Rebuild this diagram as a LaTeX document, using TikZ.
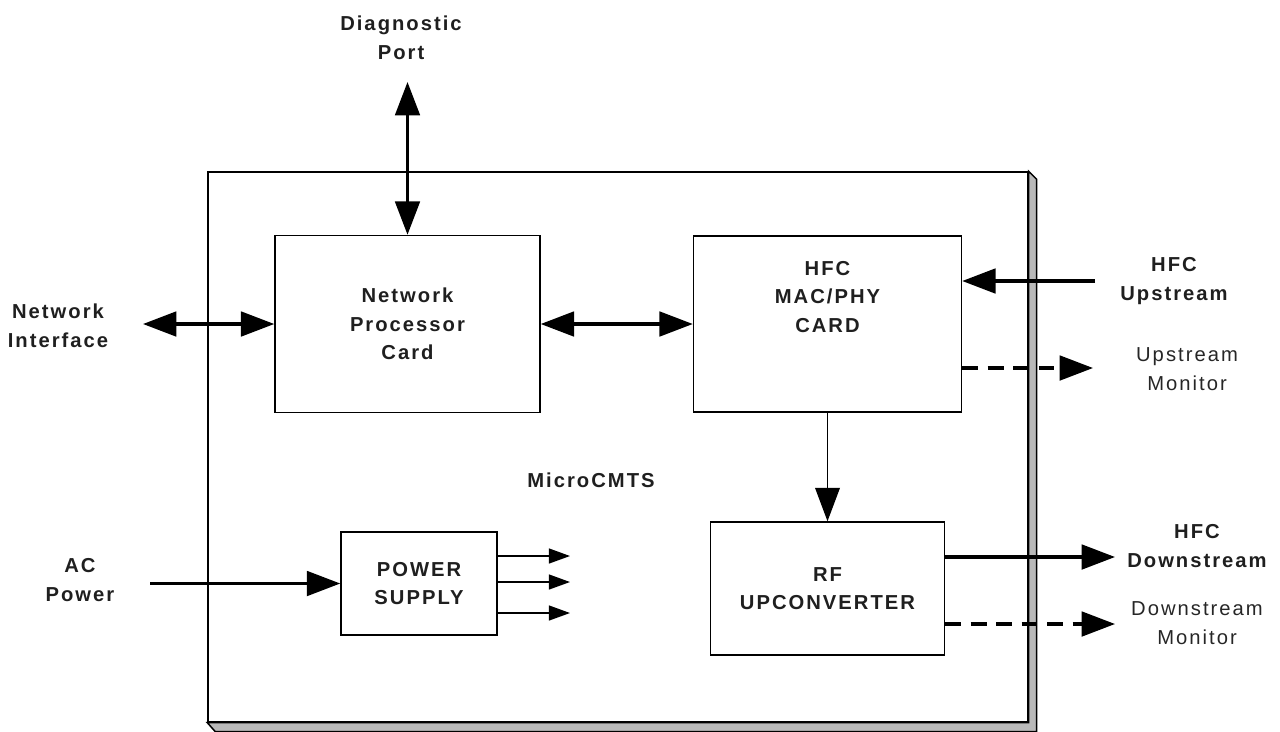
\documentclass[tikz,border=0pt]{standalone}
\usepackage{fontspec}
\setmainfont{Liberation Sans}[LetterSpace=10]
\usetikzlibrary{arrows.meta,positioning,calc}
\tikzset{every picture/.style={line width=0.85pt}}

\begin{document}
\begin{tikzpicture}[x=0.02cm,y=-0.02cm,
    card/.style={draw,fill=white,inner sep=0pt},
    lbl/.style={font=\bfseries\fontsize{11.5}{16.3}\selectfont,align=center,text=black!88},
    mon/.style={font=\fontsize{11.5}{16.3}\selectfont,align=center,text=black!85},
    bus/.style={line width=1.8pt,-{Triangle[length=19pt,width=14pt]}},
    dbus/.style={line width=1.8pt,{Triangle[length=19pt,width=14pt]}-{Triangle[length=19pt,width=14pt]}},
    dashbus/.style={bus,dash pattern=on 9pt off 5.5pt},
    feed/.style={-{Triangle[length=19pt,width=14pt]}},
    tap/.style={-{Triangle[length=12pt,width=8.5pt]}}]
    \useasboundingbox (0,0) rectangle (1280,731);
    % chassis
    \node[card,minimum width=16.4cm,minimum height=11cm] (cmts) at (618,447) {};
    \filldraw[fill=gray!55] (cmts.north east) -- ++(8,8) -- ($(cmts.south east)+(8,9)$)
        -- ($(cmts.south west)+(8,9)$) -- (cmts.south west) -- (cmts.south east) -- cycle;
    \node[lbl] (cmtstxt) at (591,480) {MicroCMTS};
    % cards
    \node[card,lbl,minimum width=5.3cm,minimum height=3.54cm] (npc) at (407.5,324) {Network\\Processor\\Card};
    \node[card,minimum width=5.36cm,minimum height=3.52cm] (mac) at (827.5,324) {};
    \node[lbl] (mactxt) at ([yshift=0.54cm]mac.center) {HFC\\MAC/PHY\\CARD};
    \node[card,lbl,minimum width=3.12cm,minimum height=2.06cm] (psu) at (419,583.5) {POWER\\SUPPLY};
    \node[card,lbl,minimum width=4.68cm,minimum height=2.66cm] (rf) at (827.5,588.5) {RF\\UPCONVERTER};
    % outside ends
    \coordinate (diag) at (407.5,82);
    \coordinate (ni) at (143,324);
    \coordinate (us) at (1095,281);
    \coordinate (usm) at (1093,368);
    \coordinate (ac) at (150,583.5);
    \coordinate (ds) at (1115,557);
    \coordinate (dsm) at (1115,624);
    \coordinate (out1) at (570,556);
    \coordinate (out2) at (570,582);
    \coordinate (out3) at (570,613);
    % labels
    \node[lbl] (diagtxt) at (401,38) {Diagnostic\\Port};
    \node[lbl] (nitxt) at (58,325.5) {Network\\Interface};
    \node[lbl] (actxt) at (80,580) {AC\\Power};
    \node[lbl] (ustxt) at (1174,281) {HFC\\Upstream};
    \node[mon] (usmtxt) at (1187,369) {Upstream\\Monitor};
    \node[lbl] (dstxt) at (1197,546) {HFC\\Downstream};
    \node[mon] (dsmtxt) at (1197,623) {Downstream\\Monitor};
    % connectors
    \draw[dbus] (diag) -- (npc.north);
    \draw[dbus] (ni) -- (npc.west);
    \draw[dbus] (npc.east) -- (mac.west);
    \draw[bus] (us) -- (us -| mac.east);
    \draw[dashbus] (usm -| mac.east) -- (usm);
    \draw[feed] (mac.south) -- (rf.north);
    \draw[bus] (ac) -- (psu.west);
    \foreach \o in {out1,out2,out3}
        \draw[tap] (psu.east |- \o) -- (\o);
    \draw[bus] (rf.east |- ds) -- (ds);
    \draw[dashbus] (rf.east |- dsm) -- (dsm);
\end{tikzpicture}
\end{document}
